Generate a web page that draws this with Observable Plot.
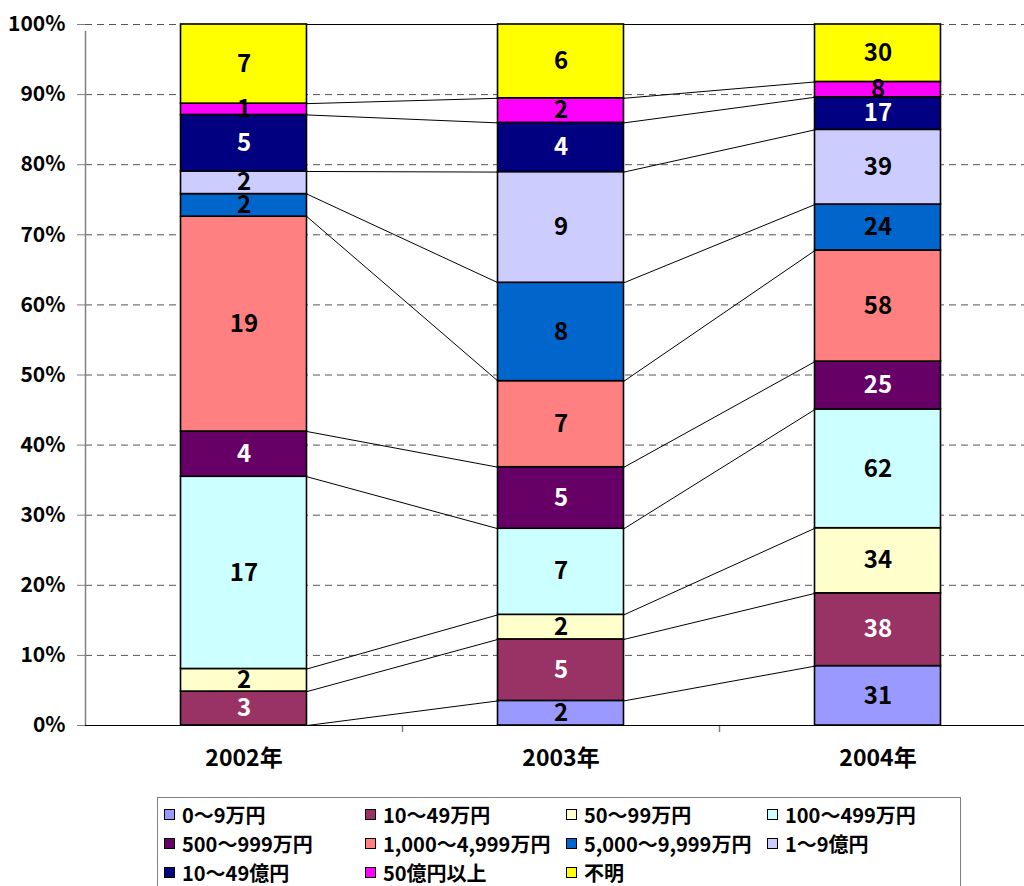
<!DOCTYPE html>
<html>
<head>
<meta charset="utf-8">
<script src="https://cdn.jsdelivr.net/npm/d3@7"></script>
<script src="https://cdn.jsdelivr.net/npm/@observablehq/plot@0.6"></script>
<style>
  body { margin: 0; background: white; font-family: "Noto Sans CJK JP", sans-serif; }
  #chart svg { display: block; }
  #legend {
    position: absolute; left: 157px; top: 797px; width: 804px; height: 89px;
    border: 1px solid #808080; border-bottom: none; box-sizing: border-box;
    display: grid; grid-template-columns: 201px 201px 201px 201px;
    grid-auto-rows: 29px; padding-left: 6px; padding-top: 2px;
    font-weight: bold; font-size: 20px; line-height: 1; color: black;
  }
  .item { display: flex; align-items: center; white-space: nowrap; line-height: 1; }
  .item span { line-height: 1; }
  .sw { width: 9px; height: 9px; border: 1px solid black; margin-right: 7px; flex: none; }
</style>
</head>
<body>
<div id="chart"></div>
<div id="legend"></div>
<script>
const years = ["2002年", "2003年", "2004年"];
const categories = ["0〜9万円", "10〜49万円", "50〜99万円", "100〜499万円", "500〜999万円",
  "1,000〜4,999万円", "5,000〜9,999万円", "1〜9億円", "10〜49億円", "50億円以上", "不明"];
const colors = ["#9999FF", "#993366", "#FFFFCC", "#CCFFFF", "#660066",
  "#FF8080", "#0066CC", "#CCCCFF", "#000080", "#FF00FF", "#FFFF00"];
const labelColors = ["black", "white", "black", "black", "white",
  "black", "black", "black", "white", "black", "black"];
const counts2002 = [0, 3, 2, 17, 4, 19, 2, 2, 5, 1, 7];
const counts2003 = [2, 5, 2, 7, 5, 7, 8, 9, 4, 2, 6];
const counts2004 = [31, 38, 34, 62, 25, 58, 24, 39, 17, 8, 30];
const yTicks = [0, 0.1, 0.2, 0.3, 0.4, 0.5, 0.6, 0.7, 0.8, 0.9, 1.0];

const series = [counts2002, counts2003, counts2004];
const hw = 0.1987; // half bar width in band units

const segs = series.map((vals, yi) => {
  const total = d3.sum(vals);
  let cum = 0;
  return vals.map((v, ci) => {
    const y1 = cum / total; cum += v; const y2 = cum / total;
    return {yi, ci, v, y1, y2, x1: yi + 0.5 - hw, x2: yi + 0.5 + hw, xm: yi + 0.5,
      fill: colors[ci], tfill: labelColors[ci]};
  });
});
const segments = segs.flat().filter(d => d.v > 0);
const links = [];
for (let yi = 0; yi < series.length - 1; yi++) {
  for (let ci = 0; ci < categories.length; ci++) {
    links.push({x1: yi + 0.5 + hw, y1: segs[yi][ci].y2, x2: yi + 1.5 - hw, y2: segs[yi + 1][ci].y2});
  }
}

const chart = Plot.plot({
  width: 1024,
  height: 790,
  marginTop: 24,
  marginBottom: 65,
  marginLeft: 85,
  marginRight: 0,
  style: {fontFamily: "'Noto Sans CJK JP', sans-serif", background: "white", overflow: "hidden"},
  x: {domain: [0, 3], range: [85, 1036], axis: null},
  y: {domain: [0, 1], range: [725, 24], axis: null},
  color: {type: "identity"},
  marks: [
    Plot.gridY(yTicks.slice(1), {stroke: "#555", strokeOpacity: 1, strokeDasharray: "7,5"}),
    Plot.link(links, {x1: "x1", y1: "y1", x2: "x2", y2: "y2", stroke: "black", strokeWidth: 1}),
    Plot.rect(segments, {x1: "x1", x2: "x2", y1: "y1", y2: "y2", fill: "fill", stroke: "black", strokeWidth: 1.6}),
    Plot.ruleX([0], {y1: 0, y2: 1, insetBottom: -7, stroke: "#808080", strokeWidth: 1.5}),
    Plot.ruleX([1, 2, 3], {y1: 0, y2: 0, insetBottom: -7, stroke: "#808080", strokeWidth: 1.5}),
    Plot.ruleY([0], {stroke: "black", strokeWidth: 1.2}),
    Plot.axisY({ticks: yTicks, tickFormat: d => Math.round(d * 100) + "%", tickSize: 8, tickPadding: 12,
      stroke: "#808080", fill: "black", fontSize: 21, fontWeight: "bold"}),
    Plot.axisX({ticks: [0.5, 1.5, 2.5], tickFormat: d => years[Math.floor(d)], tickSize: 0, tickPadding: 24,
      fill: "black", fontSize: 23, fontWeight: "bold"}),
    Plot.text(segments, {x: "xm", y: d => (d.y1 + d.y2) / 2, text: d => String(d.v), fill: "tfill",
      fontSize: 24, fontWeight: "bold"})
  ]
});
document.getElementById("chart").appendChild(chart);

const legend = document.getElementById("legend");
categories.forEach((c, i) => {
  const item = document.createElement("div");
  item.className = "item";
  const sw = document.createElement("span");
  sw.className = "sw";
  sw.style.background = colors[i];
  const t = document.createElement("span");
  t.textContent = c;
  item.appendChild(sw); item.appendChild(t);
  legend.appendChild(item);
});
</script>
</body>
</html>
